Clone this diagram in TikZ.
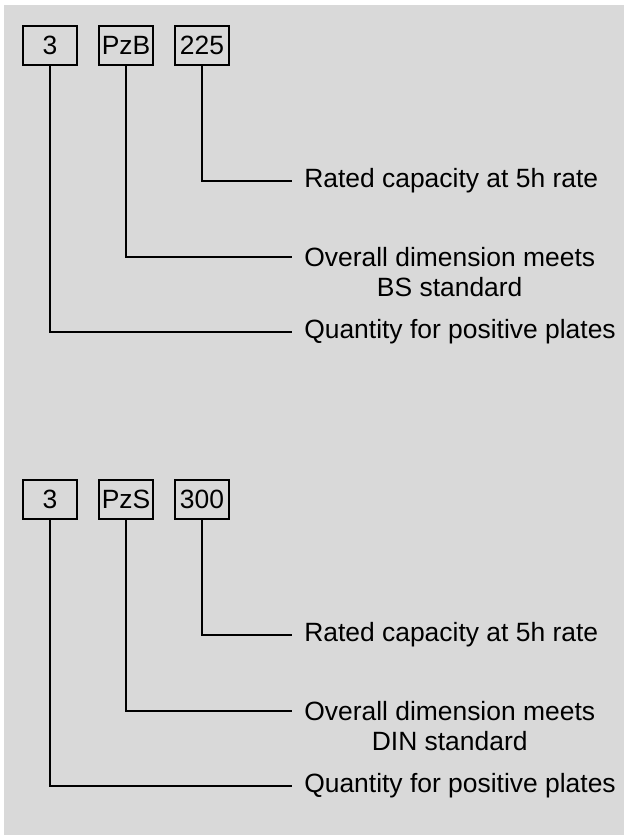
\documentclass[tikz,border=0pt]{standalone}
\usepackage{fontspec}
\setmainfont{Liberation Sans}
\usetikzlibrary{positioning}
\definecolor{panel}{HTML}{D9D9D9}
\tikzset{
  code/.style={draw, line width=1.4pt, minimum width=13.5mm, minimum height=9.75mm, inner sep=1pt},
  desc/.style={anchor=west, inner xsep=3mm, inner ysep=0pt, align=center},
  lead/.style={line width=1.4pt}
}

\begin{document}
\begin{tikzpicture}[x=0.25mm, y=-0.25mm, font=\fontsize{18.8}{21.3}\selectfont]
\useasboundingbox (0,0) rectangle (624,835);
\fill[panel] (4,5) rectangle (624,835);

\node[code] (qtyB) at (50,45.5) {3};
\node[code] (typeB) at (126,45.5) {PzB};
\node[code] (capB) at (202,45.5) {225};
\node[desc] (rateB) at (292,181) {Rated capacity at 5h rate};
\node[desc] (dimB) at (292,272) {Overall dimension meets\\BS standard};
\node[desc] (plateB) at (292,332) {Quantity for positive plates};
\draw[lead] (capB.south) |- (rateB.west);
\draw[lead] (typeB.south) |- ([yshift=3.75mm]dimB.west);
\draw[lead] (qtyB.south) |- (plateB.west);

\node[code] (qtyS) at (50,499.5) {3};
\node[code] (typeS) at (126,499.5) {PzS};
\node[code] (capS) at (202,499.5) {300};
\node[desc] (rateS) at (292,635) {Rated capacity at 5h rate};
\node[desc] (dimS) at (292,726) {Overall dimension meets\\DIN standard};
\node[desc] (plateS) at (292,786) {Quantity for positive plates};
\draw[lead] (capS.south) |- (rateS.west);
\draw[lead] (typeS.south) |- ([yshift=3.75mm]dimS.west);
\draw[lead] (qtyS.south) |- (plateS.west);
\end{tikzpicture}
\end{document}
